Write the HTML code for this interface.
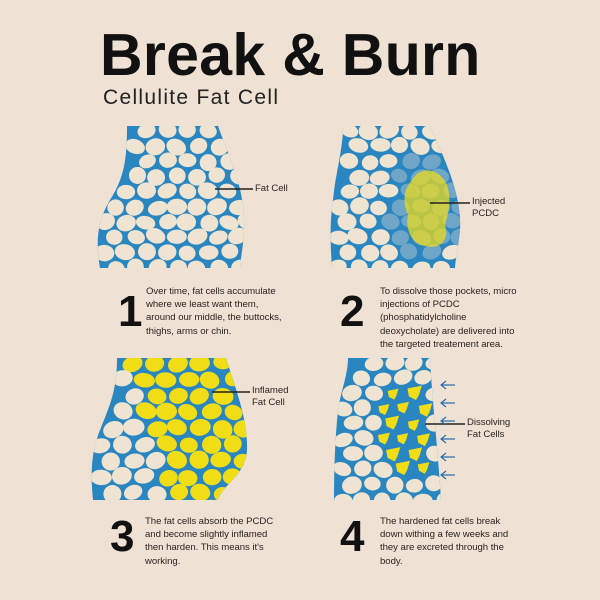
<!DOCTYPE html>
<html><head><meta charset="utf-8"><style>
body{margin:0;background:#efe1d3;width:600px;height:600px;overflow:hidden;font-family:"Liberation Sans",sans-serif}
.t{position:absolute;font-size:9.6px;line-height:13.2px;color:#2b2420;letter-spacing:-0.05px}
.n{position:absolute;font-size:44px;font-weight:bold;color:#111;line-height:44px}
</style></head><body>
<div style="position:absolute;left:100px;top:25px;font-size:59px;font-weight:bold;color:#111;letter-spacing:0.3px;line-height:60px">Break &amp; Burn</div>
<div style="position:absolute;left:103px;top:86px;font-size:21px;color:#222;letter-spacing:1.3px">Cellulite Fat Cell</div>
<svg id="s" width="600" height="600" style="position:absolute;left:0;top:0">
<defs>
<clipPath id="c1"><path d="M127,126 L218,126 C230,160 246,190 244,230 C243,250 240,262 240,268 L100,268 C95,240 98,220 110,200 C124,178 127,160 127,126Z"/></clipPath>
<clipPath id="c2"><path d="M343,126 L430,126 C445,160 462,195 460,230 C458,250 455,262 455,268 L332,268 C330,240 330,220 333,200 C336,170 343,150 343,126Z"/></clipPath>
<clipPath id="c3"><path d="M117,358 L226,358 C236,390 248,420 247,450 C246,475 222,485 218,500 L93,500 C90,470 92,450 100,430 C110,405 117,390 117,358Z"/></clipPath>
<clipPath id="c4"><path d="M348,358 L430,358 C432,400 438,450 441,500 L334,500 C334,470 335,440 338,410 C341,390 348,375 348,358Z"/></clipPath>
</defs>
<g id="g"></g>
<g stroke="#222" stroke-width="1.5">
<line x1="215" y1="189" x2="253" y2="189"/>
<line x1="430" y1="203" x2="470" y2="203"/>
<line x1="212" y1="392" x2="250" y2="392"/>
<line x1="425" y1="424" x2="465" y2="424"/>
</g>
<g stroke="#2a6fb0" stroke-width="1.2" fill="none" id="ar"></g>
</svg>
<div class="t" style="left:255px;top:182px">Fat Cell</div>
<div class="t" style="left:472px;top:196px;line-height:12px">Injected<br>PCDC</div>
<div class="t" style="left:252px;top:385px;line-height:12px">Inflamed<br>Fat Cell</div>
<div class="t" style="left:467px;top:417px;line-height:12px">Dissolving<br>Fat Cells</div>
<div class="n" style="left:118px;top:290px">1</div>
<div class="t" style="left:146px;top:285px">Over time, fat cells accumulate<br>where we least want them,<br>around our middle, the buttocks,<br>thighs, arms or chin.</div>
<div class="n" style="left:340px;top:290px">2</div>
<div class="t" style="left:380px;top:285px">To dissolve those pockets, micro<br>injections of PCDC<br>(phosphatidylcholine<br>deoxycholate) are delivered into<br>the targeted treatement area.</div>
<div class="n" style="left:110px;top:515px">3</div>
<div class="t" style="left:145px;top:515px">The fat cells absorb the PCDC<br>and become slightly inflamed<br>then harden. This means it's<br>working.</div>
<div class="n" style="left:340px;top:515px">4</div>
<div class="t" style="left:380px;top:515px">The hardened fat cells break<br>down withing a few weeks and<br>they are excreted through the<br>body.</div>
<script>
var B="#2a86c0",C="#efe3d2",Y="#f0dd16";
var seed=11;function r(){seed=(seed*16807)%2147483647;return seed/2147483647;}
var ns="http://www.w3.org/2000/svg",g=document.getElementById("g");
function el(t,a,p){var e=document.createElementNS(ns,t);for(var k in a)e.setAttribute(k,a[k]);(p||g).appendChild(e);return e;}
var svg=document.getElementById("s");
var panels=[{c:"c1",x:85,y:126,w:165,h:142,d:"M127,126 L218,126 C230,160 246,190 244,230 C243,250 240,262 240,268 L100,268 C95,240 98,220 110,200 C124,178 127,160 127,126Z"},
{c:"c2",x:328,y:126,w:135,h:142,d:"M343,126 L430,126 C445,160 462,195 460,230 C458,250 455,262 455,268 L332,268 C330,240 330,220 333,200 C336,170 343,150 343,126Z"},
{c:"c3",x:90,y:358,w:160,h:142,d:"M117,358 L226,358 C236,390 248,420 247,450 C246,475 222,485 218,500 L93,500 C90,470 92,450 100,430 C110,405 117,390 117,358Z"},
{c:"c4",x:332,y:358,w:110,h:142,d:"M348,358 L430,358 C432,400 438,450 441,500 L334,500 C334,470 335,440 338,410 C341,390 348,375 348,358Z"}];
panels.forEach(function(p,i){
 var pe=el("path",{d:p.d,fill:B});
 var gg=el("g",{"clip-path":"url(#"+p.c+")"});
 var sp=i==2?22:20.5;
 for(var yy=p.y+5,row=0;yy<p.y+p.h+12;yy+=sp*0.74,row++){
  for(var xx=p.x+(row%2?sp/2:0);xx<p.x+p.w+12;xx+=sp){
   var cx=xx+(r()-0.5)*3,cy=yy+(r()-0.5)*3;
   var inside=true;
   try{var pt=svg.createSVGPoint();pt.x=cx-5;pt.y=Math.min(Math.max(cy,p.y+2),p.y+p.h-2);inside=pe.isPointInFill(pt);}catch(e){}
   if(!inside)continue;
   var rx=sp*0.45+(r()-0.5)*2,ry=sp*0.37+(r()-0.5)*2;
   var f=C;
   if(i==1){var dx=cx-428,dy=cy-205;if(dx*dx/1600+dy*dy/3000<1){f="#6fa6c8";}}
   if(i==2){if(cx-p.x>(cy-p.y)*0.35+35)f=Y;}
   if(i==3){var dx=cx-405,dy=cy-435;if(dx*dx/900+dy*dy/2400<1){
     var s=5+r()*2.5;el("polygon",{points:(cx-s)+","+(cy-s*0.6)+" "+(cx+s)+","+(cy-s)+" "+(cx+s*0.6)+","+(cy+s*0.3)+" "+(cx+s*0.2)+","+(cy+s)+" "+(cx-s*0.8)+","+(cy+s*0.5),fill:Y},gg);continue;}}
   el("ellipse",{cx:cx,cy:cy,rx:rx,ry:ry,fill:f,transform:"rotate("+((r()-0.5)*50)+" "+cx+" "+cy+")"},gg);
  }
 }
 if(i==1){el("path",{d:"M412,180 C420,165 440,168 447,185 C452,200 448,215 445,225 C450,240 440,250 425,246 C412,244 405,230 408,215 C402,200 404,190 412,180Z",fill:Y,opacity:0.72},gg);}
});
var a=document.getElementById("ar");
[385,403,421,439,457,475].forEach(function(y){el("path",{d:"M455,"+y+" L441,"+y+" M446,"+(y-4)+" L441,"+y+" L446,"+(y+4)},a);});
</script>
</body></html>
